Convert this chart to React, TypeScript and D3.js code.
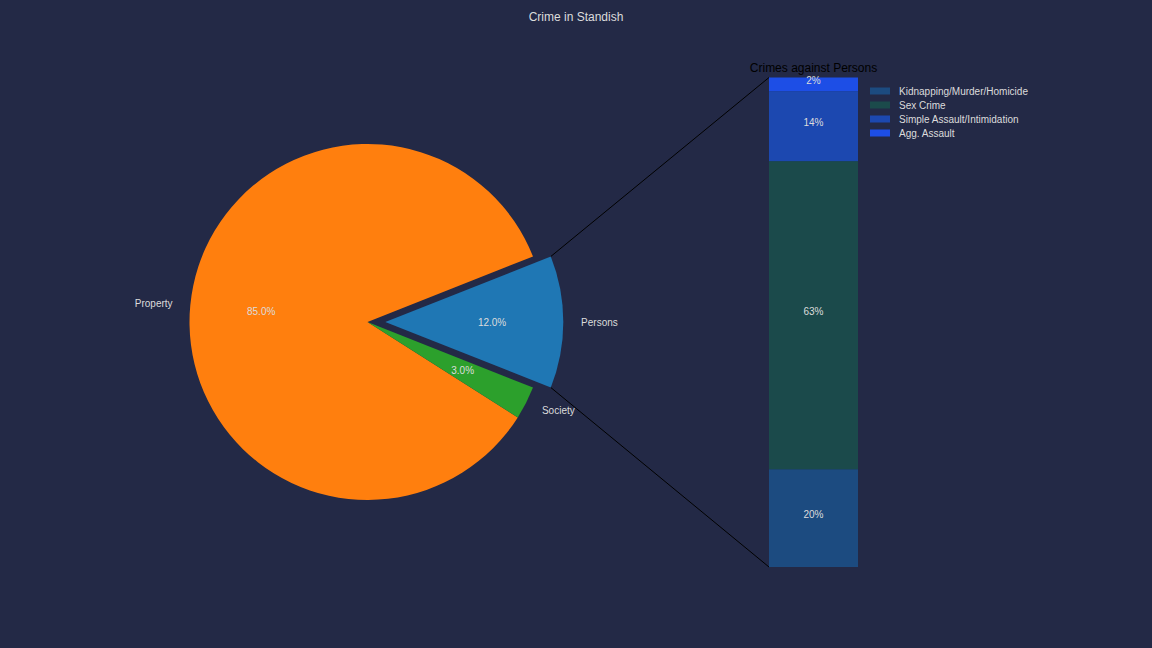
import React, { useRef, useEffect } from 'react'
import * as d3 from 'd3'

// Pie data (in drawing order, counter-clockwise like matplotlib)
const pieLabels = ['Persons', 'Property', 'Society']
const pieValues = [0.12, 0.85, 0.03]
const pieColors = ['#1f77b4', '#ff7f0e', '#2ca02c']
const explode = [0.1, 0, 0]

// Bar breakdown of "Persons", bottom to top
const barLabels = ['Kidnapping/Murder/Homicide', 'Sex Crime', 'Simple Assault/Intimidation', 'Agg. Assault']
const barValues = [0.20, 0.63, 0.143, 0.028]
const barText = ['20%', '63%', '14%', '2%']
const barColors = ['#1c4b80', '#1b4a4b', '#1c48b0', '#1d4ee6']

const BG = '#232946'
const TEXT = '#dcdcdc'
const FONT = '"Liberation Sans", Arial, sans-serif'

export default function App() {
  const svgRef = useRef<SVGSVGElement>(null)
  const width = 1152
  const height = 648

  useEffect(() => {
    if (!svgRef.current) return
    const svg = d3.select(svgRef.current)
    svg.selectAll('*').remove()

    svg.append('rect').attr('width', width).attr('height', height).attr('fill', BG)

    svg.append('text')
      .attr('x', 576).attr('y', 21)
      .attr('text-anchor', 'middle')
      .style('font-size', '12px')
      .style('fill', TEXT)
      .text('Crime in Standish')

    // ---- pie ----
    const cx = 367.5, cy = 322, radius = 178
    const start = Math.PI / 2 + (0.12 * Math.PI) // matplotlib startangle -21.6deg
    const pie = d3.pie<number>()
      .value(d => d)
      .sort(null)
      .startAngle(start)
      .endAngle(start - 2 * Math.PI)
    const arcs = pie(pieValues)
    const arc = d3.arc<d3.PieArcDatum<number>>().innerRadius(0).outerRadius(radius)

    const pt = (a: number, r: number): [number, number] =>
      [Math.cos(a - Math.PI / 2) * r, Math.sin(a - Math.PI / 2) * r]

    let personsCenter: [number, number] = [cx, cy]
    let personsArc = arcs[0]

    arcs.forEach((d, i) => {
      const mid = (d.startAngle + d.endAngle) / 2
      const off = pt(mid, explode[i] * radius)
      const c: [number, number] = [cx + off[0], cy + off[1]]
      if (i === 0) { personsCenter = c; personsArc = d }
      const g = svg.append('g').attr('transform', `translate(${c[0]},${c[1]})`)
      g.append('path').attr('d', arc(d) as string).attr('fill', pieColors[i])

      const lp = pt(mid, radius * 1.1)
      g.append('text')
        .attr('x', lp[0]).attr('y', lp[1]).attr('dy', '0.35em')
        .attr('text-anchor', lp[0] > 0 ? 'start' : 'end')
        .style('font-size', '10px').style('fill', TEXT)
        .text(pieLabels[i])

      const pp = pt(mid, radius * 0.6)
      g.append('text')
        .attr('x', pp[0]).attr('y', pp[1]).attr('dy', '0.35em')
        .attr('text-anchor', 'middle')
        .style('font-size', '10px').style('fill', TEXT)
        .text((pieValues[i] * 100).toFixed(1) + '%')
    })

    // ---- bar ----
    const barX = 769, barW = 89
    const total = d3.sum(barValues)
    const y = d3.scaleLinear().domain([0, total]).range([567, 77.5])
    let bottom = 0
    barValues.forEach((v, i) => {
      const y0 = y(bottom), y1 = y(bottom + v)
      svg.append('rect')
        .attr('x', barX).attr('y', y1)
        .attr('width', barW).attr('height', y0 - y1)
        .attr('fill', barColors[i])
      svg.append('text')
        .attr('x', barX + barW / 2).attr('y', (y0 + y1) / 2 - 3.5).attr('dy', '0.35em')
        .attr('text-anchor', 'middle')
        .style('font-size', '10px').style('fill', TEXT)
        .text(barText[i])
      bottom += v
    })

    svg.append('text')
      .attr('x', barX + barW / 2).attr('y', 72)
      .attr('text-anchor', 'middle')
      .style('font-size', '12px').style('fill', '#000')
      .text('Crimes against Persons')

    // connecting lines
    const topPt = pt(personsArc.endAngle, radius)
    const botPt = pt(personsArc.startAngle, radius)
    const ends = [topPt, botPt]
    const a = ends[0][1] < ends[1][1] ? ends[0] : ends[1]
    const b = ends[0][1] < ends[1][1] ? ends[1] : ends[0]
    svg.append('line')
      .attr('x1', personsCenter[0] + a[0]).attr('y1', personsCenter[1] + a[1])
      .attr('x2', barX).attr('y2', y(total))
      .attr('stroke', '#000').attr('stroke-width', 1)
    svg.append('line')
      .attr('x1', personsCenter[0] + b[0]).attr('y1', personsCenter[1] + b[1])
      .attr('x2', barX).attr('y2', y(0))
      .attr('stroke', '#000').attr('stroke-width', 1)

    // legend (top item = first series)
    const legend = svg.append('g').attr('transform', 'translate(870, 91)')
    barLabels.forEach((lab, i) => {
      const row = legend.append('g').attr('transform', `translate(0, ${i * 14})`)
      row.append('rect').attr('x', 0).attr('y', -3.5).attr('width', 20).attr('height', 7).attr('fill', barColors[i])
      row.append('text')
        .attr('x', 29).attr('y', 0).attr('dy', '0.35em')
        .style('font-size', '10px').style('fill', TEXT)
        .text(lab)
    })
  }, [])

  return (
    <svg
      ref={svgRef}
      width={width}
      height={height}
      style={{ display: 'block', position: 'absolute', left: 0, top: 0, fontFamily: FONT }}
    />
  )
}
